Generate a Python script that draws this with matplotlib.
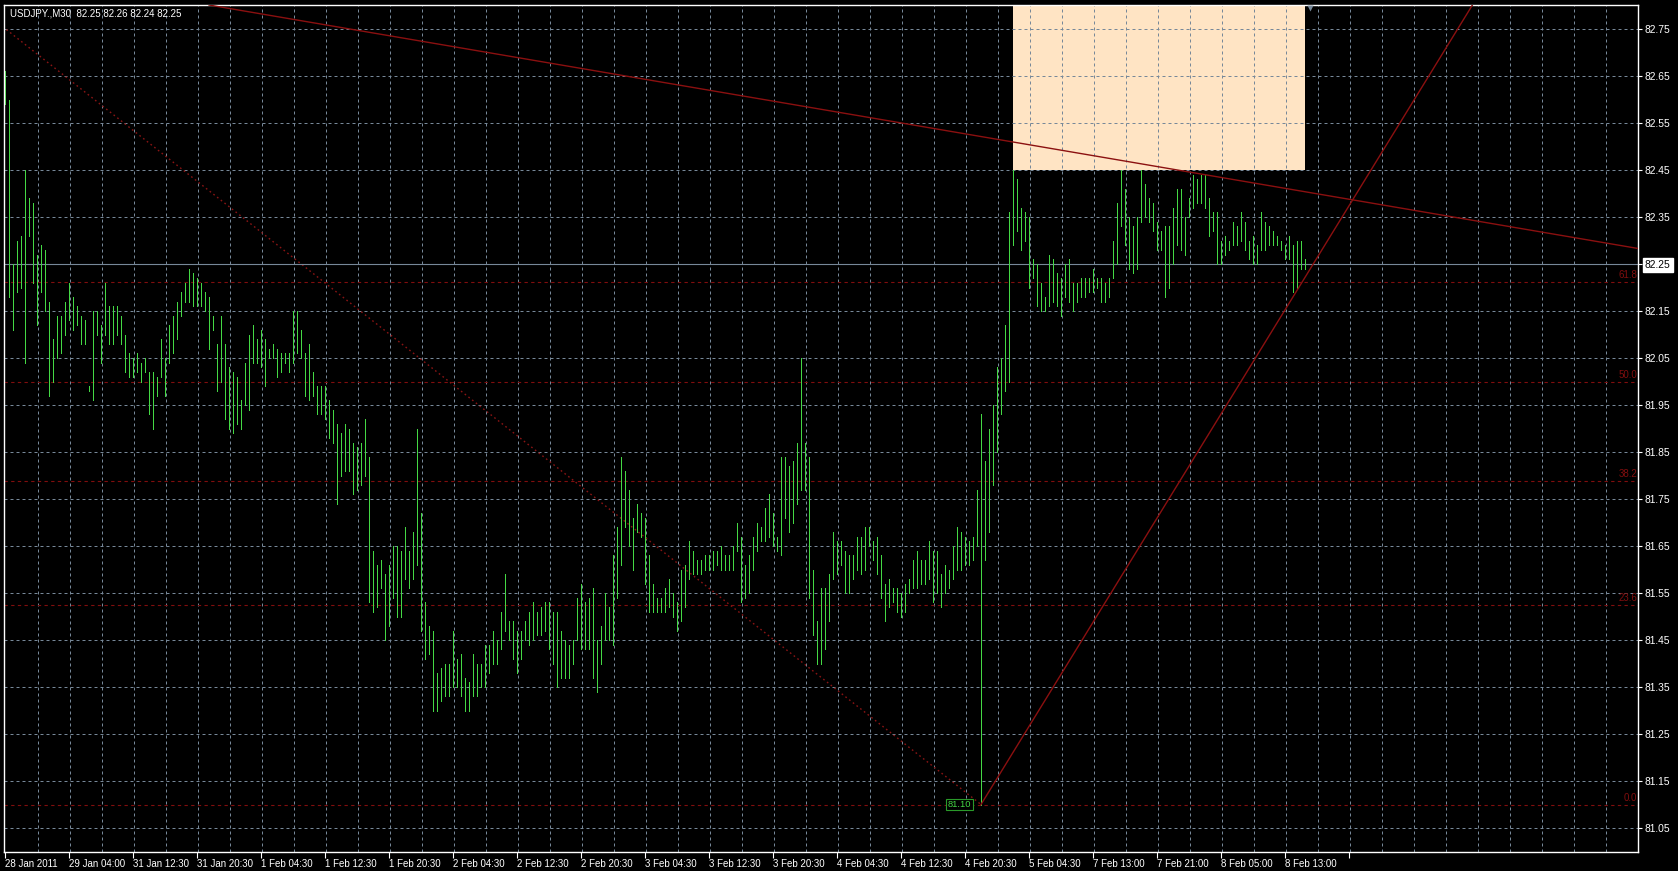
import matplotlib
matplotlib.use('Agg')
import matplotlib.pyplot as plt
from matplotlib.patches import Rectangle

symbol = 'USDJPY.,M30'
last_ohlc = [82.25, 82.26, 82.24, 82.25]

# M30 bar highs / lows (bar 0 = 28 Jan 2011)
highs = [
    82.66, 82.60, 82.25, 82.30, 82.31, 82.45, 82.39, 82.38, 82.27, 82.29,
    82.28, 82.17, 82.09, 82.14, 82.14, 82.17, 82.21, 82.18, 82.16, 82.14,
    82.13, 81.99, 82.15, 82.15, 82.12, 82.21, 82.16, 82.16, 82.16, 82.14,
    82.10, 82.06, 82.05, 82.06, 82.04, 82.05, 82.02, 82.02, 82.01, 82.09,
    82.05, 82.12, 82.14, 82.17, 82.19, 82.21, 82.24, 82.23, 82.22, 82.21,
    82.19, 82.18, 82.14, 82.08, 82.14, 82.08, 82.03, 82.02, 82.01, 81.96,
    82.04, 82.10, 82.12, 82.09, 82.11, 82.09, 82.07, 82.08, 82.07, 82.06,
    82.06, 82.06, 82.15, 82.15, 82.11, 82.06, 82.08, 82.02, 81.99, 81.99,
    81.99, 81.96, 81.94, 81.91, 81.89, 81.91, 81.90, 81.87, 81.86, 81.87,
    81.92, 81.84, 81.64, 81.61, 81.62, 81.59, 81.61, 81.65, 81.65, 81.64,
    81.69, 81.64, 81.68, 81.90, 81.72, 81.53, 81.48, 81.47, 81.38, 81.39,
    81.40, 81.40, 81.47, 81.41, 81.42, 81.37, 81.36, 81.42, 81.40, 81.40,
    81.44, 81.44, 81.47, 81.45, 81.51, 81.59, 81.49, 81.49, 81.47, 81.47,
    81.49, 81.51, 81.53, 81.51, 81.52, 81.53, 81.53, 81.51, 81.51, 81.47,
    81.45, 81.44, 81.45, 81.54, 81.57, 81.53, 81.54, 81.56, 81.45, 81.48,
    81.55, 81.52, 81.63, 81.69, 81.84, 81.81, 81.77, 81.71, 81.74, 81.72,
    81.71, 81.63, 81.57, 81.54, 81.54, 81.56, 81.58, 81.55, 81.53, 81.60,
    81.61, 81.66, 81.64, 81.62, 81.62, 81.63, 81.63, 81.64, 81.64, 81.65,
    81.63, 81.63, 81.65, 81.70, 81.67, 81.61, 81.63, 81.67, 81.70, 81.69,
    81.73, 81.76, 81.72, 81.67, 81.84, 81.84, 81.82, 81.83, 81.87, 82.05,
    81.87, 81.84, 81.60, 81.49, 81.56, 81.56, 81.59, 81.68, 81.66, 81.66,
    81.64, 81.63, 81.63, 81.67, 81.67, 81.69, 81.69, 81.66, 81.67, 81.63,
    81.57, 81.58, 81.56, 81.56, 81.55, 81.57, 81.58, 81.62, 81.64, 81.62,
    81.62, 81.66, 81.64, 81.64, 81.59, 81.61, 81.60, 81.65, 81.69, 81.68,
    81.67, 81.66, 81.67, 81.77, 81.93, 81.83, 81.90, 81.95, 82.03, 82.05,
    82.12, 82.36, 82.45, 82.43, 82.37, 82.36, 82.35, 82.26, 82.25, 82.21,
    82.18, 82.27, 82.26, 82.23, 82.22, 82.25, 82.26, 82.21, 82.21, 82.22,
    82.22, 82.22, 82.24, 82.22, 82.22, 82.21, 82.22, 82.30, 82.38, 82.45,
    82.41, 82.35, 82.33, 82.35, 82.45, 82.42, 82.39, 82.38, 82.34, 82.32,
    82.33, 82.33, 82.37, 82.41, 82.41, 82.35, 82.39, 82.44, 82.43, 82.44,
    82.44, 82.39, 82.36, 82.36, 82.30, 82.31, 82.30, 82.34, 82.33, 82.36,
    82.34, 82.30, 82.31, 82.29, 82.36, 82.34, 82.33, 82.32, 82.31, 82.30,
    82.29, 82.31, 82.29, 82.30, 82.30, 82.26,
]
lows = [
    82.59, 82.18, 82.11, 82.19, 82.20, 82.04, 82.31, 82.21, 82.12, 82.19,
    82.15, 81.97, 82.00, 82.05, 82.06, 82.10, 82.13, 82.11, 82.12, 82.08,
    82.08, 81.98, 81.96, 82.10, 82.04, 82.10, 82.08, 82.08, 82.10, 82.08,
    82.02, 82.01, 82.01, 82.02, 82.00, 82.02, 81.93, 81.90, 81.97, 82.01,
    81.97, 82.04, 82.06, 82.09, 82.14, 82.17, 82.17, 82.16, 82.16, 82.16,
    82.15, 82.07, 82.11, 81.98, 82.00, 81.92, 81.90, 81.89, 81.91, 81.90,
    81.95, 81.94, 82.04, 82.04, 82.03, 81.99, 82.05, 82.05, 82.01, 82.02,
    82.04, 82.02, 82.04, 82.06, 82.05, 81.97, 81.96, 81.97, 81.93, 81.93,
    81.92, 81.88, 81.87, 81.74, 81.80, 81.81, 81.81, 81.76, 81.77, 81.78,
    81.80, 81.53, 81.51, 81.52, 81.56, 81.45, 81.48, 81.54, 81.50, 81.50,
    81.58, 81.56, 81.58, 81.61, 81.47, 81.41, 81.42, 81.30, 81.30, 81.32,
    81.33, 81.33, 81.35, 81.35, 81.33, 81.30, 81.30, 81.33, 81.33, 81.35,
    81.35, 81.38, 81.40, 81.40, 81.43, 81.47, 81.45, 81.41, 81.38, 81.41,
    81.45, 81.44, 81.45, 81.46, 81.46, 81.47, 81.43, 81.40, 81.35, 81.37,
    81.37, 81.37, 81.40, 81.45, 81.43, 81.43, 81.43, 81.37, 81.34, 81.40,
    81.45, 81.45, 81.44, 81.54, 81.61, 81.69, 81.65, 81.60, 81.68, 81.67,
    81.57, 81.51, 81.51, 81.51, 81.51, 81.51, 81.52, 81.50, 81.47, 81.49,
    81.52, 81.58, 81.59, 81.59, 81.59, 81.60, 81.60, 81.60, 81.61, 81.60,
    81.60, 81.60, 81.60, 81.64, 81.53, 81.54, 81.55, 81.60, 81.64, 81.66,
    81.66, 81.67, 81.65, 81.64, 81.63, 81.71, 81.68, 81.70, 81.74, 81.77,
    81.77, 81.54, 81.46, 81.40, 81.40, 81.43, 81.49, 81.58, 81.59, 81.61,
    81.55, 81.55, 81.58, 81.60, 81.59, 81.60, 81.65, 81.62, 81.59, 81.54,
    81.49, 81.52, 81.53, 81.51, 81.50, 81.51, 81.55, 81.56, 81.56, 81.57,
    81.57, 81.58, 81.53, 81.55, 81.52, 81.55, 81.56, 81.58, 81.60, 81.60,
    81.61, 81.61, 81.62, 81.65, 81.10, 81.62, 81.68, 81.78, 81.85, 81.93,
    81.98, 82.00, 82.29, 82.32, 82.28, 82.30, 82.20, 82.22, 82.16, 82.15,
    82.15, 82.16, 82.17, 82.16, 82.14, 82.18, 82.17, 82.15, 82.17, 82.18,
    82.18, 82.19, 82.19, 82.20, 82.17, 82.17, 82.18, 82.22, 82.25, 82.33,
    82.29, 82.24, 82.23, 82.24, 82.34, 82.35, 82.34, 82.32, 82.28, 82.28,
    82.18, 82.20, 82.25, 82.29, 82.28, 82.27, 82.35, 82.37, 82.38, 82.38,
    82.37, 82.31, 82.32, 82.25, 82.25, 82.27, 82.28, 82.29, 82.29, 82.30,
    82.28, 82.26, 82.25, 82.25, 82.28, 82.28, 82.29, 82.29, 82.29, 82.28,
    82.26, 82.26, 82.19, 82.20, 82.24, 82.24,
]

time_labels = ['28 Jan 2011', '29 Jan 04:00', '31 Jan 12:30', '31 Jan 20:30',
               '1 Feb 04:30', '1 Feb 12:30', '1 Feb 20:30', '2 Feb 04:30',
               '2 Feb 12:30', '2 Feb 20:30', '3 Feb 04:30', '3 Feb 12:30',
               '3 Feb 20:30', '4 Feb 04:30', '4 Feb 12:30', '4 Feb 20:30',
               '5 Feb 04:30', '7 Feb 13:00', '7 Feb 21:00', '8 Feb 05:00',
               '8 Feb 13:00', '']
label_step = 16   # bars between time labels
grid_step = 8     # bars between vertical grid lines

price_ticks = [81.05, 81.15, 81.25, 81.35, 81.45, 81.55, 81.65, 81.75, 81.85,
               81.95, 82.05, 82.15, 82.25, 82.35, 82.45, 82.55, 82.65, 82.75]
current_price = 82.25

# fibonacci retracement
fib_high, fib_high_bar = 82.90, -22
fib_low, fib_low_bar = 81.10, 244
fib_levels = [0.0, 23.6, 38.2, 50.0, 61.8]

# trend lines (bar, price)
down_line = [(100, 82.73), (300, 82.44)]
up_line = [(244, 81.10), (322, 82.18)]   # ray, starts at the low

# rectangle object
rect_bars = (252, 325)
rect_prices = (82.45, 82.95)

W, H = 1678, 871
left_px, right_px, top_px, bottom_px = 3.5, 1638, 5, 852

bar_col = '#44d844'
grid_col = '#778899'
fib_col = '#800e0e'
line_col = '#8b1010'
txt_font = 'Liberation Sans'
fs = 7.0

fig = plt.figure(figsize=(W / 100, H / 100), dpi=100, facecolor='black')
ax = fig.add_axes([left_px / W, (H - bottom_px) / H,
                   (right_px - left_px) / W, (bottom_px - top_px) / H])
ax.set_facecolor('black')
xmax = (right_px - 5) / 4
ax.set_xlim((left_px - 5) / 4, xmax)
ax.set_ylim(82.75 - (bottom_px - 29) / 470, 82.75 + (29 - top_px) / 470)

# rectangle
ax.add_patch(Rectangle((rect_bars[0], rect_prices[0]), rect_bars[1] - rect_bars[0],
                       rect_prices[1] - rect_prices[0], facecolor='#ffe4c4',
                       edgecolor='none', zorder=0.5))

# grid
for p in price_ticks:
    ax.axhline(p, color=grid_col, lw=0.72, ls=(0, (3, 3)), zorder=1)
for k in range(grid_step, 408, grid_step):
    ax.axvline(k + 0.15, color=grid_col, lw=0.72, ls=(0, (3, 3)), zorder=1)

# fibonacci levels
for lev in fib_levels:
    p = fib_low + (fib_high - fib_low) * lev / 100
    ax.axhline(p, color=fib_col, lw=0.8, ls=(0, (3, 3)), zorder=1.2)
    ax.text(0.9995, p + 0.004, '%.1f' % lev, transform=ax.get_yaxis_transform(),
            ha='right', va='bottom', color=fib_col, fontsize=fs, family=txt_font)
ax.plot([fib_high_bar, fib_low_bar], [fib_high, fib_low], color='#8a1414', lw=1.0,
        ls=(0, (1.2, 2.2)), zorder=1.2)

# current price line
ax.axhline(current_price, color=grid_col, lw=0.8, zorder=1.3)

# bars
bars = list(range(len(highs)))
ax.vlines(bars, lows, highs, color=bar_col, lw=0.6, antialiased=False, zorder=2)

# trend lines
ax.axline(down_line[0], down_line[1], color=line_col, lw=1.0, zorder=3)
(k0, p0), (k1, p1) = up_line
slope = (p1 - p0) / (k1 - k0)
ax.plot([k0, xmax + 5], [p0, p0 + slope * (xmax + 5 - k0)], color=line_col, lw=1.0, zorder=3)

# low price label
ax.text(238.6, fib_low, '%.2f' % fib_low, ha='center', va='center', color=bar_col,
        fontsize=fs - 0.3, family=txt_font, zorder=4,
        bbox=dict(boxstyle='square,pad=0.15', facecolor='black', edgecolor='#2a9a2a', lw=0.8))

# shift marker
ax.plot([326.25], [0.997], marker='v', ms=4.5, color=grid_col, mec='none',
        transform=ax.get_xaxis_transform(), clip_on=False, zorder=5)

# title
ax.text(6 / (right_px - left_px), 1 - 8 / (bottom_px - top_px),
        '%s  %.2f %.2f %.2f %.2f' % ((symbol,) + tuple(last_ohlc)),
        transform=ax.transAxes, ha='left', va='center', color='white',
        fontsize=fs, family=txt_font, zorder=6)

# axes
for s in ax.spines.values():
    s.set_color('white')
    s.set_linewidth(1.0)
ax.yaxis.tick_right()
ax.set_yticks(price_ticks)
ax.set_yticklabels(['%.2f' % p for p in price_ticks])
ax.tick_params(axis='y', colors='white', length=3, width=0.8, pad=2, labelsize=fs + 0.4)
for lab in ax.get_yticklabels():
    lab.set_family(txt_font)
    if lab.get_text() == '%.2f' % current_price:
        lab.set_color('black')
        lab.set_bbox(dict(boxstyle='square,pad=0.2', facecolor='white', edgecolor='white'))

ax.set_xticks([i * label_step for i in range(len(time_labels))])
ax.set_xticklabels(time_labels)
ax.tick_params(axis='x', colors='white', length=4, width=0.8, pad=1, labelsize=fs)
for lab in ax.get_xticklabels():
    lab.set_horizontalalignment('left')
    lab.set_family(txt_font)

fig.savefig('out.png', dpi=100, facecolor='black')
